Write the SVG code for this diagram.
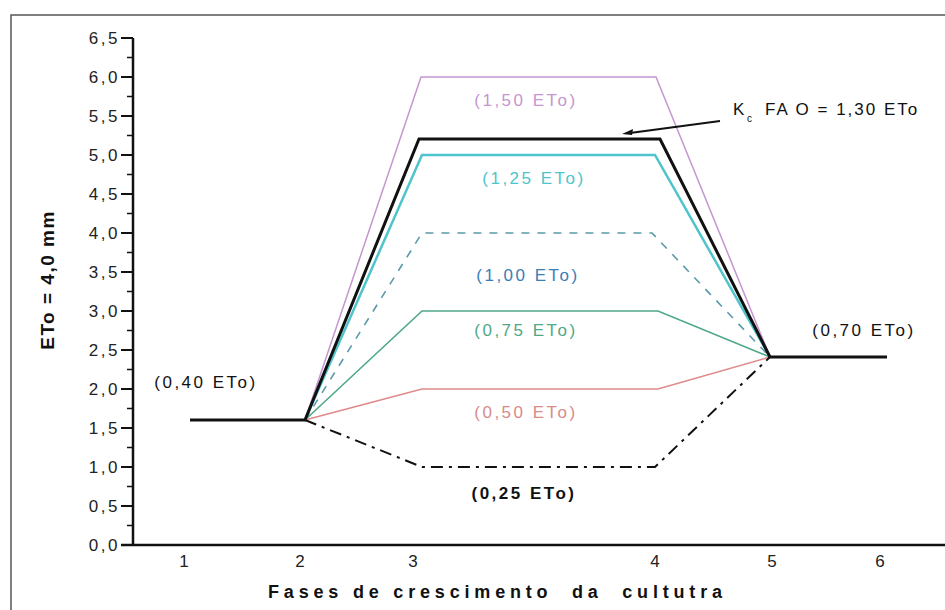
<svg xmlns="http://www.w3.org/2000/svg" width="945" height="610" viewBox="0 0 945 610">
<style>
.t{font-family:"Liberation Sans",Arial,sans-serif;font-size:17px;letter-spacing:2.5px;text-anchor:middle}
.tick{font-family:"Liberation Sans",Arial,sans-serif;font-size:17px;letter-spacing:2.5px;text-anchor:end;fill:#222}
.xt{font-family:"Liberation Sans",Arial,sans-serif;font-size:17px;text-anchor:middle;fill:#222}
.c{fill:none;stroke-linejoin:miter}
</style>
<rect width="945" height="610" fill="#fff"/>
<path d="M11,610 V15 H945" fill="none" stroke="#555" stroke-width="1.5"/>
<g id="axes" stroke="#111">
<line x1="133" y1="38" x2="133" y2="546" stroke-width="2.5"/>
<line x1="121" y1="545" x2="945" y2="545" stroke-width="2.5"/>
<path stroke-width="2" d="M121,545H133M121,506H133M121,467H133M121,428H133M121,389H133M121,350H133M121,311H133M121,272H133M121,233H133M121,194H133M121,155H133M121,116H133M121,77H133M121,38H133"/>
<path stroke-width="1.5" d="M127,525.5H133M127,486.5H133M127,447.5H133M127,408.5H133M127,369.5H133M127,330.5H133M127,291.5H133M127,252.5H133M127,213.5H133M127,174.5H133M127,135.5H133M127,96.5H133M127,57.5H133"/>
</g>
<g id="ylabels">
<text class="tick" x="120" y="551">0,0</text>
<text class="tick" x="120" y="512">0,5</text>
<text class="tick" x="120" y="473">1,0</text>
<text class="tick" x="120" y="434">1,5</text>
<text class="tick" x="120" y="395">2,0</text>
<text class="tick" x="120" y="356">2,5</text>
<text class="tick" x="120" y="317">3,0</text>
<text class="tick" x="120" y="278">3,5</text>
<text class="tick" x="120" y="239">4,0</text>
<text class="tick" x="120" y="200">4,5</text>
<text class="tick" x="120" y="161">5,0</text>
<text class="tick" x="120" y="122">5,5</text>
<text class="tick" x="120" y="83">6,0</text>
<text class="tick" x="120" y="44">6,5</text>
</g>
<g id="xlabels">
<text class="xt" x="184" y="567">1</text>
<text class="xt" x="300" y="567">2</text>
<text class="xt" x="413" y="567">3</text>
<text class="xt" x="655" y="567">4</text>
<text class="xt" x="772" y="567">5</text>
<text class="xt" x="880" y="567">6</text>
</g>
<text x="0" y="0" transform="translate(54,280) rotate(-90)" font-family="Liberation Sans,Arial,sans-serif" font-size="19" font-weight="bold" letter-spacing="1.5" text-anchor="middle" fill="#111">ETo = 4,0 mm</text>
<text x="268" y="598" xml:space="preserve" font-family="Liberation Sans,Arial,sans-serif" font-size="18" font-weight="bold" textLength="454" lengthAdjust="spacing" fill="#111">Fases de crescimento  da  cultutra</text>
<g id="curves">
<polyline class="c" stroke="#c596d0" stroke-width="1.5" points="305,420 421,77 656,77 770,357"/>
<polyline class="c" stroke="#4ec4cc" stroke-width="2.5" points="305,420 422,155 655,155 770,357"/>
<polyline class="c" stroke="#5a9aa8" stroke-width="1.6" stroke-dasharray="8,8" points="305,420 422,233 652,233 770,357"/>
<polyline class="c" stroke="#4fa886" stroke-width="1.6" points="305,420 422,311 658,311 770,357"/>
<polyline class="c" stroke="#de8a8a" stroke-width="1.6" points="305,420 422,389 658,389 770,357"/>
<polyline class="c" stroke="#111" stroke-width="2" stroke-dasharray="12,6,3,6" points="305,420 422,467 655,467 770,357"/>
<polyline class="c" stroke="#111" stroke-width="3" points="190,420 305,420 419,139 660,139 770,357 887,357"/>
</g>
<g id="labels">
<text class="t" x="526" y="106" fill="#c596d0">(1,50 ETo)</text>
<text class="t" x="534" y="184" fill="#4ec4cc">(1,25 ETo)</text>
<text class="t" x="528" y="281" fill="#3b7db6">(1,00 ETo)</text>
<text class="t" x="526" y="336" fill="#4fa886">(0,75 ETo)</text>
<text class="t" x="526" y="418" fill="#d98a8a">(0,50 ETo)</text>
<text class="t" x="524" y="499" fill="#111" font-weight="bold">(0,25 ETo)</text>
<text class="t" x="206" y="388" fill="#111">(0,40 ETo)</text>
<text class="t" x="864" y="336" fill="#111">(0,70 ETo)</text>
<text x="733" y="115" font-family="Liberation Sans,Arial,sans-serif" font-size="17" fill="#111">K</text>
<text x="747" y="122" font-family="Liberation Sans,Arial,sans-serif" font-size="10" fill="#111">c</text>
<text x="765" y="115" font-family="Liberation Sans,Arial,sans-serif" font-size="17" letter-spacing="2" fill="#111">FA O = 1,30 ETo</text>
</g>
<g id="connectors">
<line x1="720" y1="121" x2="630" y2="133" stroke="#111" stroke-width="2"/>
<path d="M622,134 L633,129 L632,135 Z" fill="#111"/>
</g>
</svg>
